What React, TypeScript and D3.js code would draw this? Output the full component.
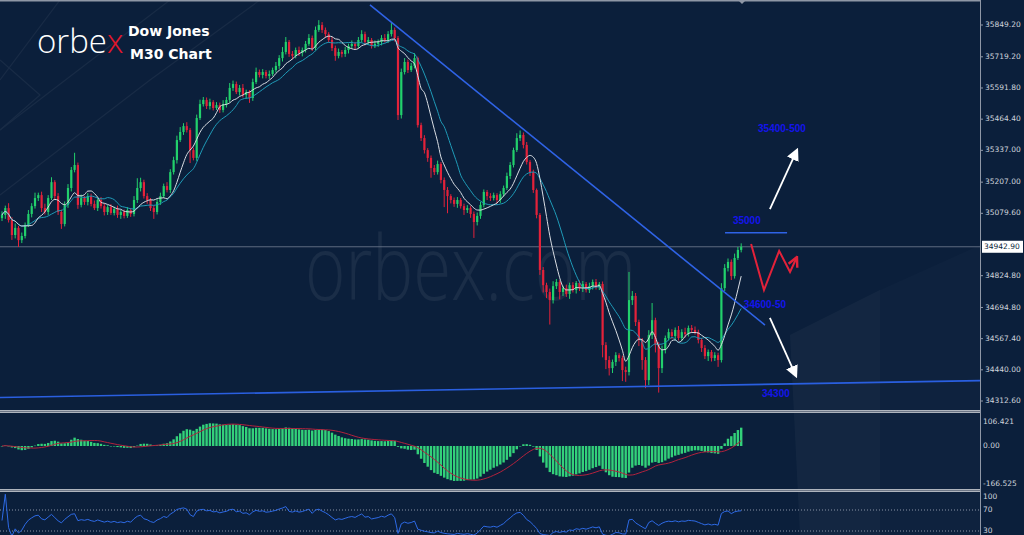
import React, { useMemo } from "react";
import * as d3 from "d3";

// ---- data (Dow Jones, M30) ----
const firstOpen = 35060;
const closes: number[] = [
  35073, 35101, 35052, 34991, 35020, 34970, 34987, 35032, 35077, 35109, 35142, 35154, 35101, 35085, 35142,
  35207, 35150, 35085, 35036, 35114, 35183, 35257, 35277, 35114, 35142, 35126, 35150, 35118, 35101, 35134,
  35109, 35085, 35105, 35081, 35097, 35073, 35085, 35069, 35093, 35077, 35134, 35183, 35207, 35150, 35134,
  35101, 35085, 35126, 35150, 35191, 35175, 35248, 35297, 35379, 35412, 35436, 35420, 35338, 35306, 35469,
  35526, 35543, 35518, 35534, 35510, 35522, 35502, 35526, 35543, 35592, 35608, 35575, 35592, 35563, 35575,
  35551, 35616, 35657, 35645, 35657, 35641, 35649, 35665, 35682, 35714, 35739, 35780, 35731, 35723, 35747,
  35735, 35747, 35772, 35796, 35755, 35829, 35849, 35829, 35812, 35788, 35755, 35723, 35739, 35731, 35747,
  35763, 35772, 35763, 35788, 35812, 35780, 35788, 35763, 35772, 35780, 35796, 35788, 35812, 35829, 35796,
  35481, 35657, 35698, 35665, 35682, 35714, 35440, 35387, 35338, 35306, 35265, 35248, 35281, 35216, 35175,
  35150, 35134, 35118, 35134, 35109, 35093, 35101, 35077, 35044, 35069, 35114, 35167, 35150, 35142, 35154,
  35134, 35158, 35183, 35232, 35277, 35338, 35387, 35400, 35359, 35289, 35248, 35175, 35073, 34848, 34786,
  34758, 34725, 34782, 34799, 34758, 34774, 34750, 34786, 34766, 34795, 34774, 34791, 34766, 34782, 34799,
  34778, 34791, 34541, 34480, 34447, 34472, 34500, 34488, 34439, 34431, 34725, 34742, 34635, 34562, 34480,
  34398, 34582, 34643, 34541, 34447, 34521, 34570, 34594, 34578, 34603, 34570, 34594, 34586, 34611, 34603,
  34594, 34562, 34529, 34496, 34513, 34488, 34500, 34480, 34774, 34856, 34881, 34823, 34897, 34930, 34942.9,
];
const upperWick: number[] = [
  15, 10, 20, 12, 18, 8, 14, 10, 16, 12, 22, 10, 14, 18, 12,
  20, 8, 12, 10, 14, 16, 12, 50, 10, 14, 8, 12, 10, 14, 8,
  12, 10, 8, 12, 10, 14, 8, 10, 12, 8, 16, 40, 18, 10, 12,
  8, 10, 12, 14, 10, 16, 12, 14, 18, 20, 12, 16, 8, 10, 14,
  18, 12, 10, 14, 8, 12, 10, 16, 12, 20, 14, 10, 12, 16, 10,
  8, 14, 18, 10, 12, 8, 14, 10, 16, 12, 20, 20, 8, 12, 10,
  14, 10, 12, 16, 10, 14, 20, 12, 10, 8, 12, 10, 14, 8, 12,
  10, 14, 8, 12, 16, 10, 12, 8, 14, 10, 12, 16, 12, 28, 10,
  8, 14, 16, 10, 12, 20, 6, 10, 12, 8, 10, 12, 14, 8, 10,
  12, 8, 10, 12, 8, 10, 12, 8, 10, 14, 12, 10, 8, 12, 10,
  8, 12, 10, 14, 12, 10, 20, 18, 10, 12, 8, 10, 6, 8, 12,
  10, 14, 20, 12, 8, 10, 14, 10, 12, 8, 10, 12, 8, 14, 10,
  12, 8, 10, 12, 16, 10, 12, 8, 10, 14, 115, 20, 12, 10, 8,
  12, 20, 70, 10, 12, 18, 10, 14, 12, 10, 16, 12, 18, 10, 12,
  14, 10, 8, 12, 10, 8, 12, 10, 20, 16, 14, 10, 18, 12, 14,
];
const lowerWick: number[] = [
  12, 16, 10, 20, 14, 28, 12, 10, 8, 14, 10, 12, 16, 10, 12,
  8, 14, 12, 20, 10, 12, 14, 10, 16, 10, 12, 14, 10, 8, 12,
  10, 14, 12, 8, 10, 12, 16, 10, 8, 12, 10, 12, 14, 10, 16,
  12, 28, 10, 12, 8, 10, 12, 10, 14, 8, 12, 10, 53, 10, 12,
  8, 10, 12, 14, 10, 8, 12, 10, 14, 10, 12, 8, 14, 10, 16,
  20, 12, 8, 10, 14, 10, 12, 8, 10, 12, 14, 10, 12, 14, 10,
  12, 14, 10, 8, 12, 10, 8, 12, 14, 10, 12, 20, 10, 14, 12,
  14, 10, 12, 8, 10, 14, 12, 10, 8, 12, 14, 10, 12, 10, 14,
  20, 14, 10, 12, 8, 10, 10, 12, 14, 16, 40, 12, 10, 14, 70,
  70, 14, 12, 16, 10, 20, 12, 16, 65, 14, 12, 10, 16, 12, 10,
  14, 12, 10, 8, 12, 10, 8, 12, 14, 10, 16, 12, 14, 20, 30,
  25, 100, 14, 12, 30, 16, 12, 20, 10, 14, 12, 16, 10, 12, 14,
  10, 12, 50, 37, 30, 20, 16, 14, 45, 40, 14, 20, 16, 25, 40,
  33, 20, 16, 30, 100, 20, 14, 10, 12, 16, 10, 12, 14, 10, 12,
  10, 14, 16, 12, 20, 14, 12, 28, 10, 12, 14, 16, 10, 8, 10,
];

const priceTicks = ["35849.20", "35719.20", "35591.80", "35464.40", "35337.00", "35207.00", "35079.60",
  "34824.80", "34694.80", "34567.40", "34440.00", "34312.60"];
const lastPrice = 34942.9;
const macdTicks = ["106.421", "0.00", "-166.525"];
const rsiTicks = ["100", "70", "30"];
const rsiLevels = [70, 30];

// drawn annotations (bar index, price)
const trendLine: [number, number][] = [[111.5, 35931], [231.2, 34623]];
const supportLine: [number, number][] = [[-1, 34327], [297, 34396]];
const targetLine: [number, number][] = [[219.1, 35000], [237.9, 35000]];
const upArrow: [number, number][] = [[232.7, 35097], [240.9, 35338]];
const downArrow: [number, number][] = [[232.7, 34652], [240.6, 34415]];
const zigzag: [number, number][] = [[227, 34954], [230.9, 34766], [235.5, 34926], [238.8, 34840], [240.9, 34901]];
const levelLabels = [
  { text: "35400-500", i: 229.1, p: 35424 },
  { text: "35000", i: 221.5, p: 35045 },
  { text: "34600-50", i: 224.8, p: 34705 },
  { text: "34300", i: 230.3, p: 34341 },
];

const BG = "#0b1f3b";
const GREEN = "#22d06c";
const RED = "#e3223a";

function sma(a: number[], n: number) {
  return a.map((_, i) => {
    const s = Math.max(0, i - n + 1);
    return d3.mean(a.slice(s, i + 1)) as number;
  });
}
function ema(a: number[], n: number) {
  const k = 2 / (n + 1);
  const out: number[] = [];
  a.forEach((v, i) => out.push(i === 0 ? v : v * k + out[i - 1] * (1 - k)));
  return out;
}
function rsi(a: number[], n: number) {
  const out: number[] = [50];
  let ag = 0, al = 0;
  for (let i = 1; i < a.length; i++) {
    const ch = a[i] - a[i - 1];
    const g = Math.max(ch, 0), l = Math.max(-ch, 0);
    if (i <= n) { ag = (ag * (i - 1) + g) / i; al = (al * (i - 1) + l) / i; }
    else { ag = (ag * (n - 1) + g) / n; al = (al * (n - 1) + l) / n; }
    out.push(al === 0 ? 100 : 100 - 100 / (1 + ag / al));
  }
  return out;
}

export default function App() {
  const W = 1024, H = 535, AX = 980;
  const x = d3.scaleLinear().domain([0, 224]).range([2, 741.2]);
  const y = d3.scaleLinear().domain([34312.6, 35849.2]).range([401, 25]);
  const ym = d3.scaleLinear().domain([0, 106.421]).range([446, 422]);
  const yr = d3.scaleLinear().domain([30, 70]).range([531, 510]);

  const calc = useMemo(() => {
    const opens = closes.map((_, i) => (i === 0 ? firstOpen : closes[i - 1]));
    const highs = closes.map((c, i) => Math.max(c, opens[i]) + upperWick[i]);
    const lows = closes.map((c, i) => Math.min(c, opens[i]) - lowerWick[i]);
    const fast = sma(closes, 8);
    const slow = sma(closes, 14);
    const e12 = ema(closes, 12), e26 = ema(closes, 26);
    const macd = e12.map((v, i) => v - e26[i]);
    const signal = sma(macd, 9);
    const r = rsi(closes, 14);
    return { opens, highs, lows, fast, slow, macd, signal, r };
  }, []);

  const line = d3.line<number>().x((_, i) => x(i)).y((v) => y(v)).curve(d3.curveMonotoneX);
  const lineM = d3.line<number>().x((_, i) => x(i)).y((v) => ym(v)).curve(d3.curveMonotoneX);
  const lineR = d3.line<number>().x((_, i) => x(i)).y((v) => yr(v));
  const pl = d3.line<[number, number]>().x((d) => x(d[0])).y((d) => y(d[1]));

  const axisFont = { fontFamily: "DejaVu Sans, Verdana, sans-serif", fontSize: 7.5, fill: "#cfd4dc" };
  const lblFont = { fontFamily: "Liberation Sans, Arial, sans-serif", fontSize: 10, fontWeight: 700, fill: "#1414ec" };

  return (
    <svg width={W} height={H} style={{ position: "fixed", left: 0, top: 0, display: "block" }}>
      <defs>
        <clipPath id="cp-price"><rect x={0} y={0} width={AX} height={409} /></clipPath>
        <clipPath id="cp-macd"><rect x={0} y={414} width={AX} height={76} /></clipPath>
        <clipPath id="cp-rsi"><rect x={0} y={493} width={AX} height={42} /></clipPath>
        <marker id="wh" viewBox="0 0 10 10" refX={8} refY={5} markerWidth={7} markerHeight={7} orient="auto">
          <path d="M0,0 L10,5 L0,10 z" fill="#ffffff" />
        </marker>
        <marker id="rh" viewBox="0 0 10 10" refX={9} refY={5} markerWidth={6} markerHeight={6} orient="auto">
          <path d="M1,1 L9,5 L1,9" fill="none" stroke={RED} strokeWidth={2} />
        </marker>
      </defs>
      <rect x={0} y={0} width={W} height={H} fill={BG} />
      {/* faint decorative brand shapes */}
      <g opacity={0.05} fill="none" stroke="#ffffff" strokeWidth={1.2}>
        <path d="M0,195 L150,80 L260,0" />
        <path d="M0,130 L170,0" />
        <path d="M0,80 L60,0" />
        <path d="M0,60 L40,95 L0,130" />
      </g>
      <path d="M790,335 L880,290 L880,535 L800,535 Z" fill="#ffffff" opacity={0.035} />
      <path d="M880,290 L980,245 L980,535 L880,535 Z" fill="#ffffff" opacity={0.015} />
      <g transform="translate(305,300) scale(1,1.32)">
        <text x={0} y={0}
          style={{ fontFamily: "Open Sans, Lato, sans-serif", fontSize: 69, fontWeight: 300, fill: "#ffffff", opacity: 0.06 }}>
          orbex.com
        </text>
      </g>

      {/* top border and marker */}
      <rect x={0} y={0} width={AX} height={1.5} fill="#8f97a6" />
      <path d="M738,0 L746,0 L742,4 Z" fill="#8f97a6" />

      {/* current price line */}
      <line x1={0} x2={AX} y1={y(lastPrice)} y2={y(lastPrice)} stroke="#5f6b80" strokeWidth={1} />

      {/* price pane */}
      <g clipPath="url(#cp-price)">
        {closes.map((c, i) => {
          const o = calc.opens[i];
          const up = c >= o;
          const col = up ? GREEN : RED;
          const top = y(Math.max(o, c)), bot = y(Math.min(o, c));
          return (
            <g key={i}>
              <line x1={x(i)} x2={x(i)} y1={y(calc.highs[i])} y2={y(calc.lows[i])} stroke={col} strokeWidth={1} />
              <rect x={x(i) - 1.1} y={top} width={2.2} height={Math.max(1, bot - top)} fill={col} />
            </g>
          );
        })}
        <path d={line(calc.slow) || ""} fill="none" stroke="#1f9bb8" strokeWidth={1} />
        <path d={line(calc.fast) || ""} fill="none" stroke="#d9dde3" strokeWidth={1} />
        <path d={pl(trendLine) || ""} stroke="#2f63e6" strokeWidth={1.6} fill="none" />
        <path d={pl(supportLine) || ""} stroke="#2a5fe0" strokeWidth={1.6} fill="none" />
        <path d={pl(targetLine) || ""} stroke="#2f63e6" strokeWidth={1.6} fill="none" />
        <path d={pl(upArrow) || ""} stroke="#ffffff" strokeWidth={1.8} fill="none" markerEnd="url(#wh)" />
        <path d={pl(downArrow) || ""} stroke="#ffffff" strokeWidth={1.8} fill="none" markerEnd="url(#wh)" />
        <path d={pl(zigzag) || ""} stroke={RED} strokeWidth={2} fill="none" strokeLinejoin="miter" markerEnd="url(#rh)" />
        {levelLabels.map((l) => (
          <text key={l.text} x={x(l.i)} y={y(l.p)} dominantBaseline="middle" style={lblFont}>{l.text}</text>
        ))}
      </g>

      {/* MACD pane */}
      <g clipPath="url(#cp-macd)">
        {calc.macd.map((v, i) => (
          <rect key={i} x={x(i) - 1.2} width={2.4} y={Math.min(ym(v), ym(0))} height={Math.max(0.5, Math.abs(ym(v) - ym(0)))} fill="#33d17a" />
        ))}
        <path d={lineM(calc.signal) || ""} fill="none" stroke="#b3223d" strokeWidth={1} />
      </g>

      {/* RSI pane */}
      <g clipPath="url(#cp-rsi)">
        {rsiLevels.map((lv) => (
          <line key={lv} x1={0} x2={AX} y1={yr(lv)} y2={yr(lv)} stroke="#8a93a6" strokeWidth={1} strokeDasharray="1,2" />
        ))}
        <path d={lineR(calc.r) || ""} fill="none" stroke="#2d6ae6" strokeWidth={1} />
      </g>

      {/* separators */}
      {[410, 489].map((sy) => (
        <g key={sy}>
          <rect x={0} y={sy} width={AX} height={3} fill="#aeb4bd" />
          <rect x={0} y={sy + 1} width={AX} height={1} fill="#6d7686" />
        </g>
      ))}

      {/* right axis */}
      <line x1={AX + 0.5} x2={AX + 0.5} y1={0} y2={H} stroke="#8f97a6" strokeWidth={1} />
      {priceTicks.map((t) => (
        <g key={t}>
          <line x1={AX} x2={AX + 3} y1={y(+t)} y2={y(+t)} stroke="#8f97a6" />
          <text x={AX + 5} y={y(+t)} dominantBaseline="middle" style={axisFont}>{t}</text>
        </g>
      ))}
      <rect x={AX + 2} y={y(lastPrice) - 6} width={41} height={12} fill="#ffffff" />
      <text x={AX + 4} y={y(lastPrice)} dominantBaseline="middle" style={{ ...axisFont, fill: "#0b1f3b" }}>
        {lastPrice.toFixed(2)}
      </text>
      {macdTicks.map((t) => (
        <text key={t} x={AX + 3} y={ym(+t)} dominantBaseline="middle" style={axisFont}>{t}</text>
      ))}
      {rsiTicks.map((t, k) => (
        <text key={t} x={AX + 3} y={k === 0 ? 497 : yr(+t)} dominantBaseline="middle" style={axisFont}>{t}</text>
      ))}

      {/* logo */}
      <text x={37} y={53} style={{ fontFamily: "Open Sans, Lato, sans-serif", fontSize: 33, fontWeight: 300, fill: "#ffffff" }}>
        orbe<tspan fill="#e3162b">x</tspan>
      </text>
      <g style={{ fontFamily: "DejaVu Sans, Verdana, sans-serif", fontSize: 14, fontWeight: 700, fill: "#ffffff" }}>
        <text x={128} y={36}>Dow Jones</text>
        <text x={130} y={59}>M30 Chart</text>
      </g>
    </svg>
  );
}
